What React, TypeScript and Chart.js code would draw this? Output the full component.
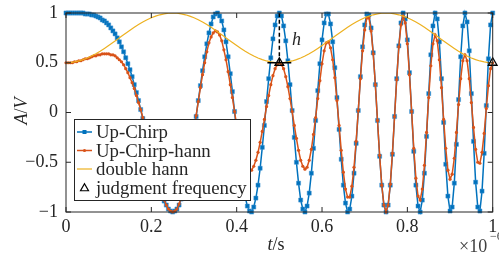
import React, { useEffect, useRef } from "react";
import { Chart, registerables } from "chart.js";

Chart.register(...registerables);

// sampling grid (axis unit: ×1e-6 s)
const TIME_STEP = 0.005;
const HANN_STEP = 0.01;

const xTicks = [0, 0.2, 0.4, 0.6, 0.8, 1];
const yTicks = [-1, -0.5, 0, 0.5, 1];

const upChirp = [
  1, 1, 1, 1, 1, 1, 1, 1, 1, 0.99,
  0.99, 0.99, 0.98, 0.98, 0.97, 0.96, 0.95, 0.93, 0.92, 0.90,
  0.88, 0.85, 0.82, 0.79, 0.75, 0.71, 0.66, 0.61, 0.55, 0.49,
  0.43, 0.36, 0.28, 0.20, 0.12, 0.03, -0.06, -0.15, -0.24, -0.33,
  -0.43, -0.52, -0.60, -0.68, -0.76, -0.83, -0.89, -0.93, -0.97, -0.99,
  -1, -0.99, -0.97, -0.93, -0.87, -0.79, -0.70, -0.59, -0.47, -0.33,
  -0.19, -0.04, 0.12, 0.27, 0.42, 0.56, 0.69, 0.80, 0.89, 0.96,
  0.99, 1, 0.97, 0.92, 0.83, 0.71, 0.56, 0.39, 0.21, 0.01,
  -0.19, -0.38, -0.56, -0.72, -0.85, -0.94, -0.99, -1, -0.95, -0.86,
  -0.73, -0.56, -0.35, -0.13, 0.11, 0.34, 0.55, 0.74, 0.88, 0.97,
  1, 0.97, 0.87, 0.72, 0.52, 0.28, 0.02, -0.25, -0.50, -0.71,
  -0.88, -0.97, -1, -0.94, -0.81, -0.61, -0.36, -0.08, 0.22, 0.49,
  0.73, 0.90, 0.99, 0.99, 0.89, 0.71, 0.45, 0.15, -0.17, -0.47,
  -0.73, -0.91, -1, -0.97, -0.84, -0.61, -0.31, 0.02, 0.36, 0.66,
  0.88, 0.99, 0.98, 0.85, 0.60, 0.28, -0.08, -0.44, -0.73, -0.93,
  -1, -0.93, -0.73, -0.42, -0.04, 0.34, 0.67, 0.90, 1, 0.94,
  0.73, 0.40, 0.01, -0.39, -0.73, -0.94, -1, -0.88, -0.61, -0.24,
  0.19, 0.58, 0.87, 1, 0.94, 0.71, 0.34, -0.10, -0.52, -0.84,
  -0.99, -0.95, -0.71, -0.32, 0.13, 0.56, 0.87, 1, 0.91, 0.62,
  0.19, -0.29, -0.70, -0.95, -0.99, -0.79, -0.41, 0.07, 0.54, 0.88,
  1,
];

const upChirpHann = [
  0.50, 0.50, 0.50, 0.50, 0.51, 0.51, 0.52, 0.52, 0.53, 0.54,
  0.54, 0.55, 0.56, 0.57, 0.57, 0.58, 0.58, 0.59, 0.59, 0.59,
  0.59, 0.58, 0.58, 0.57, 0.55, 0.53, 0.51, 0.48, 0.44, 0.40,
  0.35, 0.30, 0.24, 0.17, 0.10, 0.03, -0.05, -0.14, -0.22, -0.31,
  -0.41, -0.50, -0.58, -0.67, -0.75, -0.82, -0.88, -0.93, -0.97, -0.99,
  -1, -0.99, -0.97, -0.92, -0.86, -0.78, -0.68, -0.57, -0.45, -0.32,
  -0.18, -0.03, 0.11, 0.25, 0.38, 0.50, 0.61, 0.70, 0.76, 0.80,
  0.82, 0.81, 0.78, 0.72, 0.63, 0.53, 0.41, 0.28, 0.15, 0.01,
  -0.13, -0.25, -0.36, -0.45, -0.52, -0.57, -0.59, -0.58, -0.54, -0.48,
  -0.40, -0.30, -0.19, -0.07, 0.06, 0.17, 0.28, 0.37, 0.44, 0.48,
  0.50, 0.48, 0.44, 0.36, 0.26, 0.14, 0.01, -0.13, -0.26, -0.38,
  -0.48, -0.54, -0.57, -0.55, -0.48, -0.37, -0.22, -0.05, 0.14, 0.32,
  0.49, 0.62, 0.70, 0.71, 0.65, 0.53, 0.35, 0.12, -0.13, -0.38,
  -0.60, -0.77, -0.85, -0.85, -0.74, -0.55, -0.29, 0.02, 0.34, 0.62,
  0.83, 0.95, 0.95, 0.82, 0.59, 0.28, -0.08, -0.43, -0.73, -0.93,
  -1, -0.93, -0.72, -0.41, -0.04, 0.33, 0.66, 0.88, 0.97, 0.90,
  0.69, 0.38, 0.01, -0.36, -0.66, -0.84, -0.88, -0.77, -0.53, -0.20,
  0.15, 0.47, 0.69, 0.78, 0.72, 0.53, 0.25, -0.07, -0.36, -0.58,
  -0.67, -0.62, -0.46, -0.20, 0.08, 0.34, 0.52, 0.58, 0.52, 0.34,
  0.10, -0.15, -0.37, -0.50, -0.51, -0.40, -0.21, 0.04, 0.27, 0.44,
  0.50,
];

const doubleHann = [
  0.500, 0.502, 0.508, 0.518, 0.531, 0.548, 0.568, 0.591, 0.616, 0.644,
  0.673, 0.703, 0.734, 0.766, 0.797, 0.827, 0.856, 0.884, 0.909, 0.932,
  0.952, 0.969, 0.982, 0.992, 0.998, 1.000, 0.998, 0.992, 0.982, 0.969,
  0.952, 0.932, 0.909, 0.884, 0.856, 0.827, 0.797, 0.766, 0.734, 0.703,
  0.673, 0.644, 0.616, 0.591, 0.568, 0.548, 0.531, 0.518, 0.508, 0.502,
  0.500, 0.502, 0.508, 0.518, 0.531, 0.548, 0.568, 0.591, 0.616, 0.644,
  0.673, 0.703, 0.734, 0.766, 0.797, 0.827, 0.856, 0.884, 0.909, 0.932,
  0.952, 0.969, 0.982, 0.992, 0.998, 1.000, 0.998, 0.992, 0.982, 0.969,
  0.952, 0.932, 0.909, 0.884, 0.856, 0.827, 0.797, 0.766, 0.734, 0.703,
  0.673, 0.644, 0.616, 0.591, 0.568, 0.548, 0.531, 0.518, 0.508, 0.502,
  0.500,
];

const judgmentT = [0.5, 1];
const judgmentA = [0.5, 0.5];
const hMarkT = [0.5, 0.5];
const hMarkA = [0.5, 1];
const baseT = [0.472, 0.528];
const baseA = [0.5, 0.5];

const legendLabels = ["Up-Chirp", "Up-Chirp-hann", "double hann", "judgment frequency"];

const BLUE = "#0072BD";
const ORANGE = "#D95319";
const YELLOW = "#EDB120";
const INK = "#262626";
const FAMILY = "'Liberation Serif', 'Times New Roman', serif";

const fmt = (v: number) => {
  const r = Math.round(v * 10) / 10;
  if (r === 0) return "0";
  return r < 0 ? "\u2212" + String(-r) : String(r);
};

const toPoints = (vals: number[], step: number) => vals.map((y, i) => ({ x: i * step, y }));
const pair = (xs: number[], ys: number[]) => xs.map((x, i) => ({ x, y: ys[i] }));

function drawTriangle(ctx: CanvasRenderingContext2D, x: number, y: number, r: number) {
  ctx.beginPath();
  ctx.moveTo(x, y - r);
  ctx.lineTo(x + r * 0.95, y + r * 0.65);
  ctx.lineTo(x - r * 0.95, y + r * 0.65);
  ctx.closePath();
  ctx.stroke();
}

function mixedText(ctx: CanvasRenderingContext2D, parts: [string, boolean][], cx: number, y: number, size: number) {
  let total = 0;
  const widths = parts.map(([t, it]) => {
    ctx.font = `${it ? "italic " : ""}${size}px ${FAMILY}`;
    const w = ctx.measureText(t).width;
    total += w;
    return w;
  });
  let x = cx - total / 2;
  parts.forEach(([t, it], i) => {
    ctx.font = `${it ? "italic " : ""}${size}px ${FAMILY}`;
    ctx.fillText(t, x, y);
    x += widths[i];
  });
}

const framePlugin = {
  id: "matlabFrame",
  afterDatasetsDraw(chart: any) {
    const { ctx, chartArea: a, scales } = chart;
    const xs = scales.x;
    const ys = scales.y;
    ctx.save();
    ctx.strokeStyle = INK;
    ctx.lineWidth = 1;
    ctx.strokeRect(a.left, a.top, a.right - a.left, a.bottom - a.top);
    const TL = 5;
    ctx.beginPath();
    xTicks.forEach((v) => {
      const px = xs.getPixelForValue(v);
      ctx.moveTo(px, a.bottom);
      ctx.lineTo(px, a.bottom - TL);
      ctx.moveTo(px, a.top);
      ctx.lineTo(px, a.top + TL);
    });
    yTicks.forEach((v) => {
      const py = ys.getPixelForValue(v);
      ctx.moveTo(a.left, py);
      ctx.lineTo(a.left + TL, py);
      ctx.moveTo(a.right, py);
      ctx.lineTo(a.right - TL, py);
    });
    ctx.stroke();

    // legend
    const L = 74.5, T = 119.5, W = 176, H = 81;
    ctx.fillStyle = "#fff";
    ctx.fillRect(L, T, W, H);
    ctx.strokeStyle = INK;
    ctx.lineWidth = 1;
    ctx.strokeRect(L, T, W, H);
    const rows = [132, 150.5, 169, 187.5];
    const x0 = 77, x1 = 92, xm = 84.5;
    ctx.strokeStyle = BLUE;
    ctx.lineWidth = 1.5;
    ctx.beginPath(); ctx.moveTo(x0, rows[0]); ctx.lineTo(x1, rows[0]); ctx.stroke();
    ctx.fillStyle = BLUE;
    ctx.fillRect(xm - 2, rows[0] - 2, 4, 4);
    ctx.strokeStyle = ORANGE;
    ctx.beginPath(); ctx.moveTo(x0, rows[1]); ctx.lineTo(x1, rows[1]); ctx.stroke();
    ctx.fillStyle = ORANGE;
    ctx.beginPath(); ctx.arc(xm, rows[1], 1.6, 0, Math.PI * 2); ctx.fill();
    ctx.strokeStyle = YELLOW;
    ctx.lineWidth = 1.2;
    ctx.beginPath(); ctx.moveTo(x0, rows[2]); ctx.lineTo(x1, rows[2]); ctx.stroke();
    ctx.strokeStyle = "#000";
    ctx.lineWidth = 1.2;
    drawTriangle(ctx, xm, rows[3] + 0.5, 4.2);

    ctx.fillStyle = INK;
    ctx.font = `18.8px ${FAMILY}`;
    ctx.textBaseline = "alphabetic";
    ctx.textAlign = "left";
    legendLabels.forEach((s, i) => ctx.fillText(s, 96, rows[i] + 6.4));

    ctx.font = `italic 18px ${FAMILY}`;
    ctx.fillText("h", 292, 45);

    ctx.save();
    ctx.translate(21, 111);
    ctx.rotate(-Math.PI / 2);
    mixedText(ctx, [["A", true], ["/", false], ["V", true]], 0, 6, 18);
    ctx.restore();
    mixedText(ctx, [["t", true], ["/s", false]], 276, 250, 18);

    ctx.font = `18px ${FAMILY}`;
    ctx.fillStyle = "#404040";
    ctx.fillText("\u00d710", 459, 252);
    ctx.font = `12px ${FAMILY}`;
    ctx.fillText("\u22126", 490, 240);
    ctx.restore();
  },
};

export default function App() {
  const ref = useRef<HTMLCanvasElement | null>(null);
  useEffect(() => {
    if (!ref.current) return;
    const chart = new Chart(ref.current, {
      type: "line",
      data: {
        datasets: [
          {
            label: "base",
            data: pair(baseT, baseA),
            borderColor: "#000",
            borderWidth: 1.5,
            pointRadius: 0,
            order: 0,
          },
          {
            label: "h",
            data: pair(hMarkT, hMarkA),
            borderColor: "#000",
            borderWidth: 1.5,
            borderDash: [4, 2.5],
            pointRadius: 0,
            order: 0,
          },
          {
            label: "judgment frequency",
            data: pair(judgmentT, judgmentA),
            showLine: false,
            pointStyle: "triangle",
            pointRadius: 5,
            pointBorderWidth: 1.3,
            pointBorderColor: "#000",
            pointBackgroundColor: "rgba(0,0,0,0)",
            clip: false,
            order: 0,
          },
          {
            label: "double hann",
            data: toPoints(doubleHann, HANN_STEP),
            borderColor: YELLOW,
            borderWidth: 1.2,
            pointRadius: 0,
            order: 1,
          },
          {
            label: "Up-Chirp-hann",
            data: toPoints(upChirpHann, TIME_STEP),
            borderColor: ORANGE,
            borderWidth: 1.5,
            pointStyle: "circle",
            pointRadius: 1.6,
            pointBorderWidth: 0,
            pointBackgroundColor: ORANGE,
            clip: false,
            order: 2,
          },
          {
            label: "Up-Chirp",
            data: toPoints(upChirp, TIME_STEP),
            borderColor: BLUE,
            borderWidth: 1.5,
            pointStyle: "rect",
            pointRadius: 2.9,
            pointBorderWidth: 0.6,
            pointBorderColor: "rgba(70,150,210,0.8)",
            pointBackgroundColor: BLUE,
            clip: false,
            order: 3,
          },
        ],
      },
      options: {
        animation: false,
        responsive: false,
        devicePixelRatio: 1,
        events: [],
        layout: { padding: { top: 13, right: 5, left: 0, bottom: 0 } },
        plugins: { legend: { display: false }, tooltip: { enabled: false } },
        elements: { line: { tension: 0 } },
        scales: {
          x: {
            type: "linear",
            min: 0,
            max: 1,
            grid: { display: false, drawTicks: false },
            border: { display: false },
            afterBuildTicks: (s: any) => {
              s.ticks = xTicks.map((v) => ({ value: v }));
            },
            afterFit: (s: any) => {
              s.height = 47;
              s.paddingLeft = 0;
              s.paddingRight = 0;
            },
            ticks: {
              padding: 4,
              color: INK,
              maxRotation: 0,
              autoSkip: false,
              font: { family: FAMILY, size: 18 },
              callback: (v: any) => fmt(Number(v)),
            },
          },
          y: {
            type: "linear",
            min: -1,
            max: 1,
            grid: { display: false, drawTicks: false },
            border: { display: false },
            afterBuildTicks: (s: any) => {
              s.ticks = yTicks.map((v) => ({ value: v }));
            },
            afterFit: (s: any) => {
              s.width = 66;
              s.paddingTop = 0;
              s.paddingBottom = 0;
            },
            ticks: {
              padding: 8,
              color: INK,
              autoSkip: false,
              font: { family: FAMILY, size: 18 },
              callback: (v: any) => fmt(Number(v)),
            },
          },
        },
      },
      plugins: [framePlugin],
    } as any);
    return () => chart.destroy();
  }, []);
  return (
    <div style={{ position: "absolute", left: 0, top: 0, width: 499, height: 259, background: "#fff" }}>
      <canvas ref={ref} width={499} height={259} style={{ display: "block", width: 499, height: 259 }} />
    </div>
  );
}
